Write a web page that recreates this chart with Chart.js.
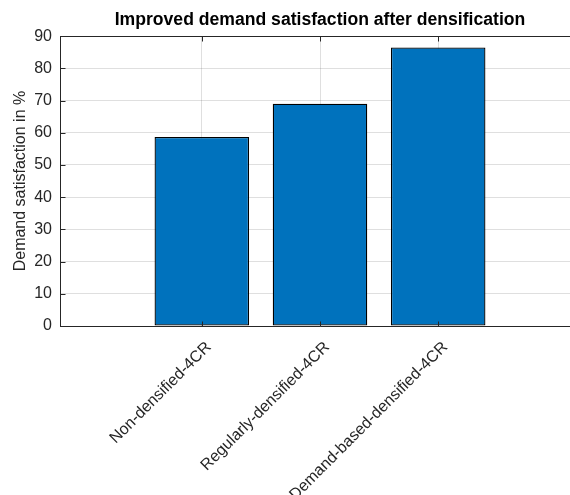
<!DOCTYPE html>
<html>
<head>
<meta charset="utf-8">
<title>Improved demand satisfaction after densification</title>
<script src="https://cdn.jsdelivr.net/npm/chart.js@4.4.0/dist/chart.umd.min.js"></script>
<style>
  html, body { margin: 0; padding: 0; background: #fff; overflow: hidden; }
  #wrap { width: 580px; height: 495px; }
</style>
</head>
<body>
<div id="wrap"><canvas id="demandChart" width="580" height="495"></canvas></div>
<script>
const categories = ['Non-densified-4CR', 'Regularly-densified-4CR', 'Demand-based-densified-4CR'];
const satisfaction = [58.7, 69.0, 86.5];
const yTicks = [0, 10, 20, 30, 40, 50, 60, 70, 80, 90];

const axisColor = '#262626';
const gridColor = 'rgba(38,38,38,0.15)';
const fontFamily = '"Liberation Sans", Arial, Helvetica, sans-serif';

// matlab style box: top edge + ticks pointing inward
const matlabBox = {
  id: 'matlabBox',
  afterDatasetsDraw(chart) {
    const { ctx, chartArea, scales } = chart;
    const len = 5;
    const top = Math.round(chartArea.top) + 0.5;
    const bottom = Math.round(chartArea.bottom) + 0.5;
    const left = Math.round(chartArea.left) + 0.5;
    ctx.save();
    ctx.strokeStyle = axisColor;
    ctx.lineWidth = 1;
    ctx.beginPath();
    ctx.moveTo(chartArea.left, top);
    ctx.lineTo(chartArea.right, top);
    scales.x.ticks.forEach(t => {
      const x = Math.round(scales.x.getPixelForValue(t.value)) + 0.5;
      ctx.moveTo(x, bottom);
      ctx.lineTo(x, bottom - len);
      ctx.moveTo(x, top);
      ctx.lineTo(x, top + len);
    });
    scales.y.ticks.forEach(t => {
      const y = Math.round(scales.y.getPixelForValue(t.value)) + 0.5;
      ctx.moveTo(left, y);
      ctx.lineTo(left + len, y);
    });
    ctx.stroke();
    ctx.restore();
  }
};

const ctx = document.getElementById('demandChart').getContext('2d');

new Chart(ctx, {
  type: 'bar',
  data: {
    datasets: [{
      data: categories.map((c, i) => ({ x: i + 1, y: satisfaction[i] })),
      backgroundColor: '#0072BD',
      borderColor: '#000000',
      borderWidth: 1.3,
      borderSkipped: false,
      inflateAmount: 0,
      barPercentage: 0.8,
      categoryPercentage: 1
    }]
  },
  options: {
    responsive: false,
    animation: false,
    devicePixelRatio: 1,
    layout: { padding: 0 },
    plugins: {
      legend: { display: false },
      tooltip: { enabled: false },
      title: {
        display: true,
        fullSize: false,
        text: 'Improved demand satisfaction after densification',
        color: '#000',
        font: { family: fontFamily, size: 17.6, weight: 'bold' },
        padding: { top: 10, bottom: 5 }
      }
    },
    scales: {
      x: {
        type: 'linear',
        offset: false,
        min: -0.2,
        max: 4.2,
        afterBuildTicks: s => { s.ticks = categories.map((c, i) => ({ value: i + 1 })); },
        afterFit: s => { s.height = 169; },
        grid: { color: gridColor, drawTicks: false, offset: false },
        border: { color: axisColor, width: 1 },
        ticks: {
          autoSkip: false,
          minRotation: 45,
          maxRotation: 45,
          padding: 12,
          labelOffset: 7,
          color: axisColor,
          font: { family: fontFamily, size: 16 },
          callback: (v, i) => categories[i]
        }
      },
      y: {
        min: 0,
        max: 90,
        afterBuildTicks: s => { s.ticks = yTicks.map(v => ({ value: v })); },
        afterFit: s => { s.width = 60; },
        grid: { color: gridColor, drawTicks: false },
        border: { color: axisColor, width: 1 },
        ticks: {
          padding: 8,
          color: axisColor,
          font: { family: fontFamily, size: 16 }
        },
        title: {
          display: true,
          text: 'Demand satisfaction in %',
          color: axisColor,
          font: { family: fontFamily, size: 16 },
          padding: { top: 10.5, bottom: 0 }
        }
      }
    }
  },
  plugins: [matlabBox]
});
</script>
</body>
</html>
